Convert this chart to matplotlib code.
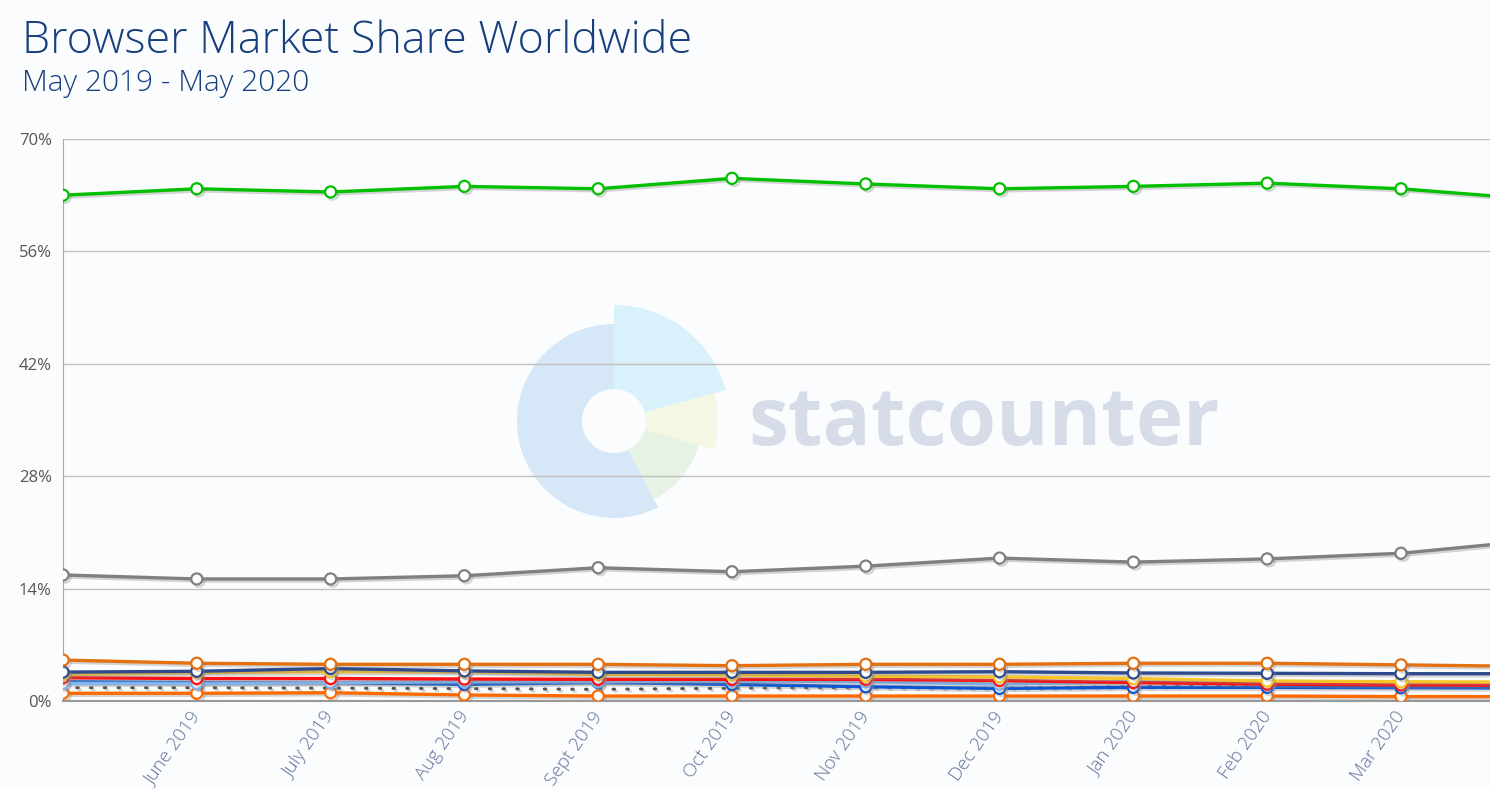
import matplotlib
matplotlib.use("Agg")
import matplotlib.pyplot as plt
import matplotlib.patheffects as pe
import matplotlib.transforms as mtransforms
from matplotlib.patches import Wedge

plt.rcParams['font.family'] = ['Open Sans', 'DejaVu Sans']

# months May 2019 .. Apr 2020 (last point sits just past the right edge)
months = ['May 2019', 'June 2019', 'July 2019', 'Aug 2019', 'Sept 2019', 'Oct 2019',
          'Nov 2019', 'Dec 2019', 'Jan 2020', 'Feb 2020', 'Mar 2020', 'Apr 2020']

chrome = [63.0, 63.8, 63.4, 64.1, 63.8, 65.1, 64.4, 63.8, 64.1, 64.5, 63.8, 62.5]
safari = [15.7, 15.2, 15.2, 15.6, 16.6, 16.1, 16.8, 17.8, 17.3, 17.7, 18.4, 20.0]
firefox = [5.1, 4.7, 4.57, 4.57, 4.57, 4.4, 4.57, 4.57, 4.7, 4.7, 4.5, 4.3]
samsung = [3.6, 3.7, 4.05, 3.75, 3.57, 3.57, 3.57, 3.65, 3.49, 3.45, 3.4, 3.4]
uc = [3.3, 3.55, 3.65, 3.65, 3.3, 3.24, 3.1, 3.0, 2.8, 2.5, 2.4, 2.35]
opera = [2.9, 2.8, 2.8, 2.74, 2.7, 2.7, 2.7, 2.55, 2.3, 2.1, 2.0, 1.95]
edge = [2.2, 2.2, 2.3, 2.4, 2.4, 2.5, 2.4, 2.1, 2.4, 2.4, 2.3, 2.25]
ie = [2.4, 2.3, 2.3, 2.07, 2.3, 2.07, 1.78, 1.57, 1.7, 1.7, 1.66, 1.62]
other = [1.66, 1.66, 1.6, 1.55, 1.45, 1.6, 1.7, 1.6, 1.8, 2.0, 2.07, 2.1]
android = [0.96, 0.96, 1.03, 0.75, 0.62, 0.62, 0.62, 0.62, 0.62, 0.62, 0.55, 0.55]

yticks = [0, 14, 28, 42, 56, 70]

W, H = 1490, 789
fig = plt.figure(figsize=(W / 100, H / 100), dpi=100)
fig.patch.set_facecolor('#fbfcfd')

# watermark, drawn in pixel coordinates behind the plot
wm = fig.add_axes([0, 0, 1, 1], zorder=0)
wm.set_xlim(0, W)
wm.set_ylim(0, H)
wm.axis('off')
cx, cy, hole = 614, H - 421, 32
for r, t1, t2, c in [(97, 90, 297, '#d6e8f7'), (116, 15.5, 90, '#d9f1fb'),
                     (104, -16, 15.5, '#f3f7e3'), (88, -63, -16, '#e6f3e4')]:
    wm.add_patch(Wedge((cx, cy), r, t1, t2, width=r - hole, facecolor=c, edgecolor='none'))
wm.text(748, H - 445, 'statcounter', fontsize=57.5, fontweight='bold',
        color='#d7dde8', va='baseline', ha='left')

ax = fig.add_axes([63 / W, (H - 701) / H, 1 - 63 / W, (701 - 139) / H], zorder=1)
ax.patch.set_alpha(0)

x = list(range(len(months)))
shadow = [pe.SimpleLineShadow(offset=(1.5, -1.5), shadow_color='#888888', alpha=0.35), pe.Normal()]

series = [
    (android, '#ff6a00'),
    (ie, '#0a55d4'),
    (edge, '#80b4f3'),
    (opera, '#ff1010'),
    (uc, '#f7c52a'),
    (samsung, '#2e4a8c'),
    (firefox, '#e5700f'),
    (safari, '#808080'),
    (chrome, '#00c000'),
]

ax.plot(x, other, color='#555555', lw=2.2, linestyle=(0, (0.5, 4)),
        dash_capstyle='round', path_effects=shadow, zorder=3)

for vals, col in series:
    ax.plot(x, vals, color=col, lw=2.4, marker='o', markersize=8,
            markerfacecolor='white', markeredgecolor=col, markeredgewidth=1.6,
            path_effects=shadow, zorder=4)

ax.set_yticks(yticks)
ax.set_yticklabels([f'{v}%' for v in yticks], fontsize=12, color='#555555')
ax.set_xticks(x[1:11])
ax.set_xticklabels(months[1:11], rotation=55, ha='right', fontsize=13.5,
                   color='#62739a', fontweight='light')
ax.set_xlim(0, (W - 63) / 133.8)
ax.set_ylim(0, 70)
ax.tick_params(length=0, pad=8)
ax.tick_params(axis='x', pad=5)
shift = mtransforms.ScaledTranslation(8 / 100, 0, fig.dpi_scale_trans)
for lbl in ax.get_xticklabels():
    lbl.set_transform(lbl.get_transform() + shift)
ax.grid(axis='y', color='#c0c0c0', lw=1)
ax.set_axisbelow(True)
for s in ['top', 'right']:
    ax.spines[s].set_visible(False)
ax.spines['left'].set_color('#aaaaaa')
ax.spines['bottom'].set_color('#999999')
ax.spines['bottom'].set_linewidth(1.5)

fig.text(22 / W, 1 - 53 / H, 'Browser Market Share Worldwide', fontsize=32.3,
         fontweight='light', color='#173f7d', va='baseline', ha='left')
fig.text(22 / W, 1 - 91 / H, 'May 2019 - May 2020', fontsize=21.5,
         fontweight='light', color='#173f7d', va='baseline', ha='left')

fig.savefig('out.png', dpi=100, facecolor=fig.get_facecolor())
